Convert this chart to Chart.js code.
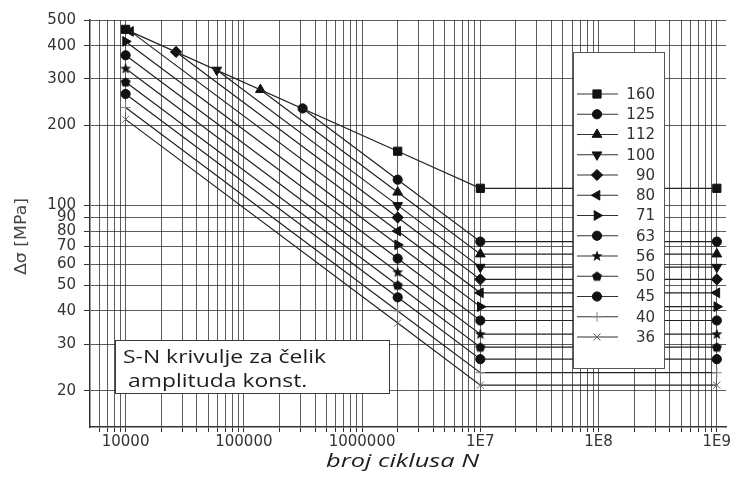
<!DOCTYPE html>
<html>
<head>
<meta charset="utf-8">
<script src="https://cdn.jsdelivr.net/npm/chart.js@4.4.1/dist/chart.umd.min.js"></script>
<style>
    html, body { margin: 0; padding: 0; background: #fff; }
    #wrap { width: 733px; height: 479px; }
</style>
</head>
<body>
<div id="wrap"><canvas id="sn" width="733" height="479"></canvas></div>
<script>
// detail categories and the curve values
var categories = ['160', '125', '112', '100', '90', '80', '71', '63', '56', '50', '45', '40', '36'];
var startN = [10000, 314000, 138000, 59000, 26700, 11000, 10000, 10000, 10000, 10000, 10000, 10000, 10000];
var startS = [461, 232, 273, 324, 379, 453, 415, 368, 328, 292, 263, 234, 211];
var refN = 2000000;
var refS = [160, 125, 112, 100, 90, 80, 71, 63, 56, 50, 45, 40, 36];
var cutN = 10000000;
var endN = 1000000000;
var cutS = [116, 73, 65.5, 58.5, 52.6, 46.8, 41.5, 36.8, 32.7, 29.2, 26.3, 23.4, 21];

var yTicks = [20, 30, 40, 50, 60, 70, 80, 90, 100, 200, 300, 400, 500];
var xDecades = [10000, 100000, 1000000, 10000000, 100000000, 1000000000];
var xDecadeLabels = ['10000', '100000', '1000000', '1E7', '1E8', '1E9'];

// vertical grid at every 1..9 step of each decade
var xTicks = [];
for (var d = 1000; d < 1000000000; d *= 10) {
    for (var k = 1; k <= 9; k++) {
        if (k * d >= 6000) xTicks.push(k * d);
    }
}
xTicks.push(1000000000);

function shape(draw) {
    var c = document.createElement('canvas');
    c.width = 12; c.height = 12;
    var g = c.getContext('2d');
    g.fillStyle = '#111';
    g.beginPath();
    draw(g);
    g.closePath();
    g.fill();
    return c;
}
var star = shape(function (g) {
    for (var i = 0; i < 10; i++) {
        var r = i % 2 ? 2.4 : 5.8;
        var a = -Math.PI / 2 + i * Math.PI / 5;
        g.lineTo(6 + r * Math.cos(a), 6.3 + r * Math.sin(a));
    }
});
var pentagon = shape(function (g) {
    for (var i = 0; i < 5; i++) {
        var a = -Math.PI / 2 + i * 2 * Math.PI / 5;
        g.lineTo(6 + 5.2 * Math.cos(a), 6.4 + 5.2 * Math.sin(a));
    }
});

var pointStyles = ['rect', 'circle', 'triangle', 'triangle', 'rectRot', 'triangle', 'triangle', 'circle', star, pentagon, 'circle', 'cross', 'crossRot'];
var pointRot = [0, 0, 0, 180, 0, -90, 90, 0, 0, 0, 0, 0, 0];
var pointRad = [5.8, 4.6, 5.6, 5.6, 5.6, 5.6, 5.6, 4.6, 5, 5, 4.6, 5, 5];
var markColor = ['#111', '#111', '#111', '#111', '#111', '#111', '#111', '#111', '#111', '#111', '#111', '#888', '#666'];

var datasets = categories.map(function (name, i) {
    return {
        label: name,
        data: [
            {x: startN[i], y: startS[i]},
            {x: refN, y: refS[i]},
            {x: cutN, y: cutS[i]},
            {x: endN, y: cutS[i]}
        ],
        borderColor: '#222',
        borderWidth: 1.2,
        pointStyle: pointStyles[i],
        rotation: pointRot[i],
        pointRadius: pointRad[i],
        pointBackgroundColor: markColor[i],
        pointBorderColor: markColor[i],
        pointBorderWidth: 1,
        fill: false,
        tension: 0
    };
});

function drawMarker(ctx, i, x, y) {
    var st = pointStyles[i], r = pointRad[i], rot = pointRot[i] * Math.PI / 180;
    ctx.save();
    ctx.translate(x, y);
    ctx.fillStyle = markColor[i];
    ctx.strokeStyle = markColor[i];
    ctx.lineWidth = 1;
    if (typeof st !== 'string') {
        ctx.drawImage(st, -st.width / 2, -st.height / 2);
        ctx.restore();
        return;
    }
    ctx.rotate(rot);
    ctx.beginPath();
    if (st === 'rect') {
        var s = r * Math.SQRT1_2;
        ctx.rect(-s, -s, 2 * s, 2 * s);
    } else if (st === 'circle') {
        ctx.arc(0, 0, r, 0, Math.PI * 2);
    } else if (st === 'triangle') {
        for (var j = 0; j < 3; j++) {
            var a = j * 2 * Math.PI / 3;
            ctx.lineTo(Math.sin(a) * r, -Math.cos(a) * r);
        }
        ctx.closePath();
    } else if (st === 'rectRot') {
        ctx.moveTo(-r, 0); ctx.lineTo(0, -r); ctx.lineTo(r, 0); ctx.lineTo(0, r);
        ctx.closePath();
    } else if (st === 'cross') {
        ctx.moveTo(-r, 0); ctx.lineTo(r, 0); ctx.moveTo(0, -r); ctx.lineTo(0, r);
        ctx.stroke();
        ctx.restore();
        return;
    } else if (st === 'crossRot') {
        var c = r * Math.SQRT1_2;
        ctx.moveTo(-c, -c); ctx.lineTo(c, c); ctx.moveTo(-c, c); ctx.lineTo(c, -c);
        ctx.stroke();
        ctx.restore();
        return;
    }
    ctx.fill();
    ctx.stroke();
    ctx.restore();
}

// text drawn stretched to the widths seen in the picture
function stretchText(ctx, text, x, y, width, rotate) {
    var w = ctx.measureText(text).width;
    ctx.save();
    ctx.translate(x, y);
    if (rotate) ctx.rotate(-Math.PI / 2);
    ctx.scale(width / w, 1);
    ctx.fillText(text, 0, 0);
    ctx.restore();
}

var extras = {
    id: 'extras',
    afterDraw: function (chart) {
        var ctx = chart.ctx;
        ctx.save();

        // note box
        ctx.fillStyle = '#fff';
        ctx.strokeStyle = '#3a3a3a';
        ctx.lineWidth = 1;
        ctx.fillRect(115.5, 340.5, 274, 53);
        ctx.strokeRect(115.5, 340.5, 274, 53);
        ctx.fillStyle = '#1e1e1e';
        ctx.font = '18px "Open Sans"';
        ctx.textAlign = 'left';
        ctx.textBaseline = 'alphabetic';
        var sx = 203 / ctx.measureText('S-N krivulje za čelik').width;
        ctx.save(); ctx.translate(123, 363); ctx.scale(sx, 1); ctx.fillText('S-N krivulje za čelik', 0, 0); ctx.restore();
        ctx.save(); ctx.translate(128, 387); ctx.scale(sx, 1); ctx.fillText('amplituda konst.', 0, 0); ctx.restore();

        // legend
        ctx.fillStyle = '#fff';
        ctx.strokeStyle = '#555';
        ctx.fillRect(573.5, 52.5, 91, 316);
        ctx.strokeRect(573.5, 52.5, 91, 316);
        ctx.font = '15px "DejaVu Sans"';
        ctx.textAlign = 'right';
        ctx.textBaseline = 'middle';
        categories.forEach(function (name, i) {
            var y = 94 + i * 20.25;
            ctx.strokeStyle = '#333';
            ctx.lineWidth = 1;
            ctx.beginPath();
            ctx.moveTo(577, y);
            ctx.lineTo(618, y);
            ctx.stroke();
            drawMarker(ctx, i, 597, y);
            ctx.fillStyle = '#333';
            ctx.fillText(name, 655, y + 1);
        });

        // axis titles
        ctx.fillStyle = '#1e1e1e';
        ctx.textAlign = 'left';
        ctx.textBaseline = 'alphabetic';
        ctx.font = 'italic 19px "Open Sans"';
        stretchText(ctx, 'broj ciklusa N', 326, 467, 153, false);
        ctx.fillStyle = '#444';
        ctx.font = '16px "DejaVu Sans"';
        ctx.textBaseline = 'middle';
        stretchText(ctx, 'Δσ [MPa]', 22, 275, 77, true);

        ctx.restore();
    }
};

var ctx = document.getElementById('sn').getContext('2d');
var snChart = new Chart(ctx, {
    type: 'line',
    data: {
        datasets: datasets
    },
    options: {
        responsive: false,
        animation: false,
        devicePixelRatio: 1,
        layout: {
            padding: {top: 20, right: 6, left: 0, bottom: 0}
        },
        plugins: {
            legend: {display: false},
            tooltip: {enabled: false}
        },
        scales: {
            x: {
                type: 'logarithmic',
                min: 5000,
                max: 1200000000,
                afterBuildTicks: function (scale) {
                    scale.ticks = xTicks.map(function (v) { return {value: v}; });
                },
                afterFit: function (scale) {
                    scale.height = 52;
                },
                grid: {
                    color: 'rgba(30,30,30,0.72)',
                    lineWidth: 1,
                    tickLength: 5,
                    tickColor: '#333'
                },
                border: {color: '#333', width: 1.5},
                ticks: {
                    autoSkip: false,
                    maxRotation: 0,
                    padding: 1,
                    color: '#333',
                    font: {family: 'DejaVu Sans', size: 15},
                    callback: function (value) {
                        var i = xDecades.indexOf(value);
                        return i >= 0 ? xDecadeLabels[i] : '';
                    }
                }
            },
            y: {
                type: 'logarithmic',
                min: 14.6,
                max: 500,
                afterBuildTicks: function (scale) {
                    scale.ticks = yTicks.map(function (v) { return {value: v}; });
                },
                afterFit: function (scale) {
                    scale.width = 90;
                },
                grid: {
                    color: 'rgba(30,30,30,0.72)',
                    lineWidth: 1,
                    tickLength: 6,
                    tickColor: '#333'
                },
                border: {color: '#333', width: 1.5},
                ticks: {
                    autoSkip: false,
                    padding: 8,
                    color: '#333',
                    font: {family: 'DejaVu Sans', size: 15},
                    callback: function (value) {
                        return String(value);
                    }
                }
            }
        }
    },
    plugins: [extras]
});
</script>
</body>
</html>
